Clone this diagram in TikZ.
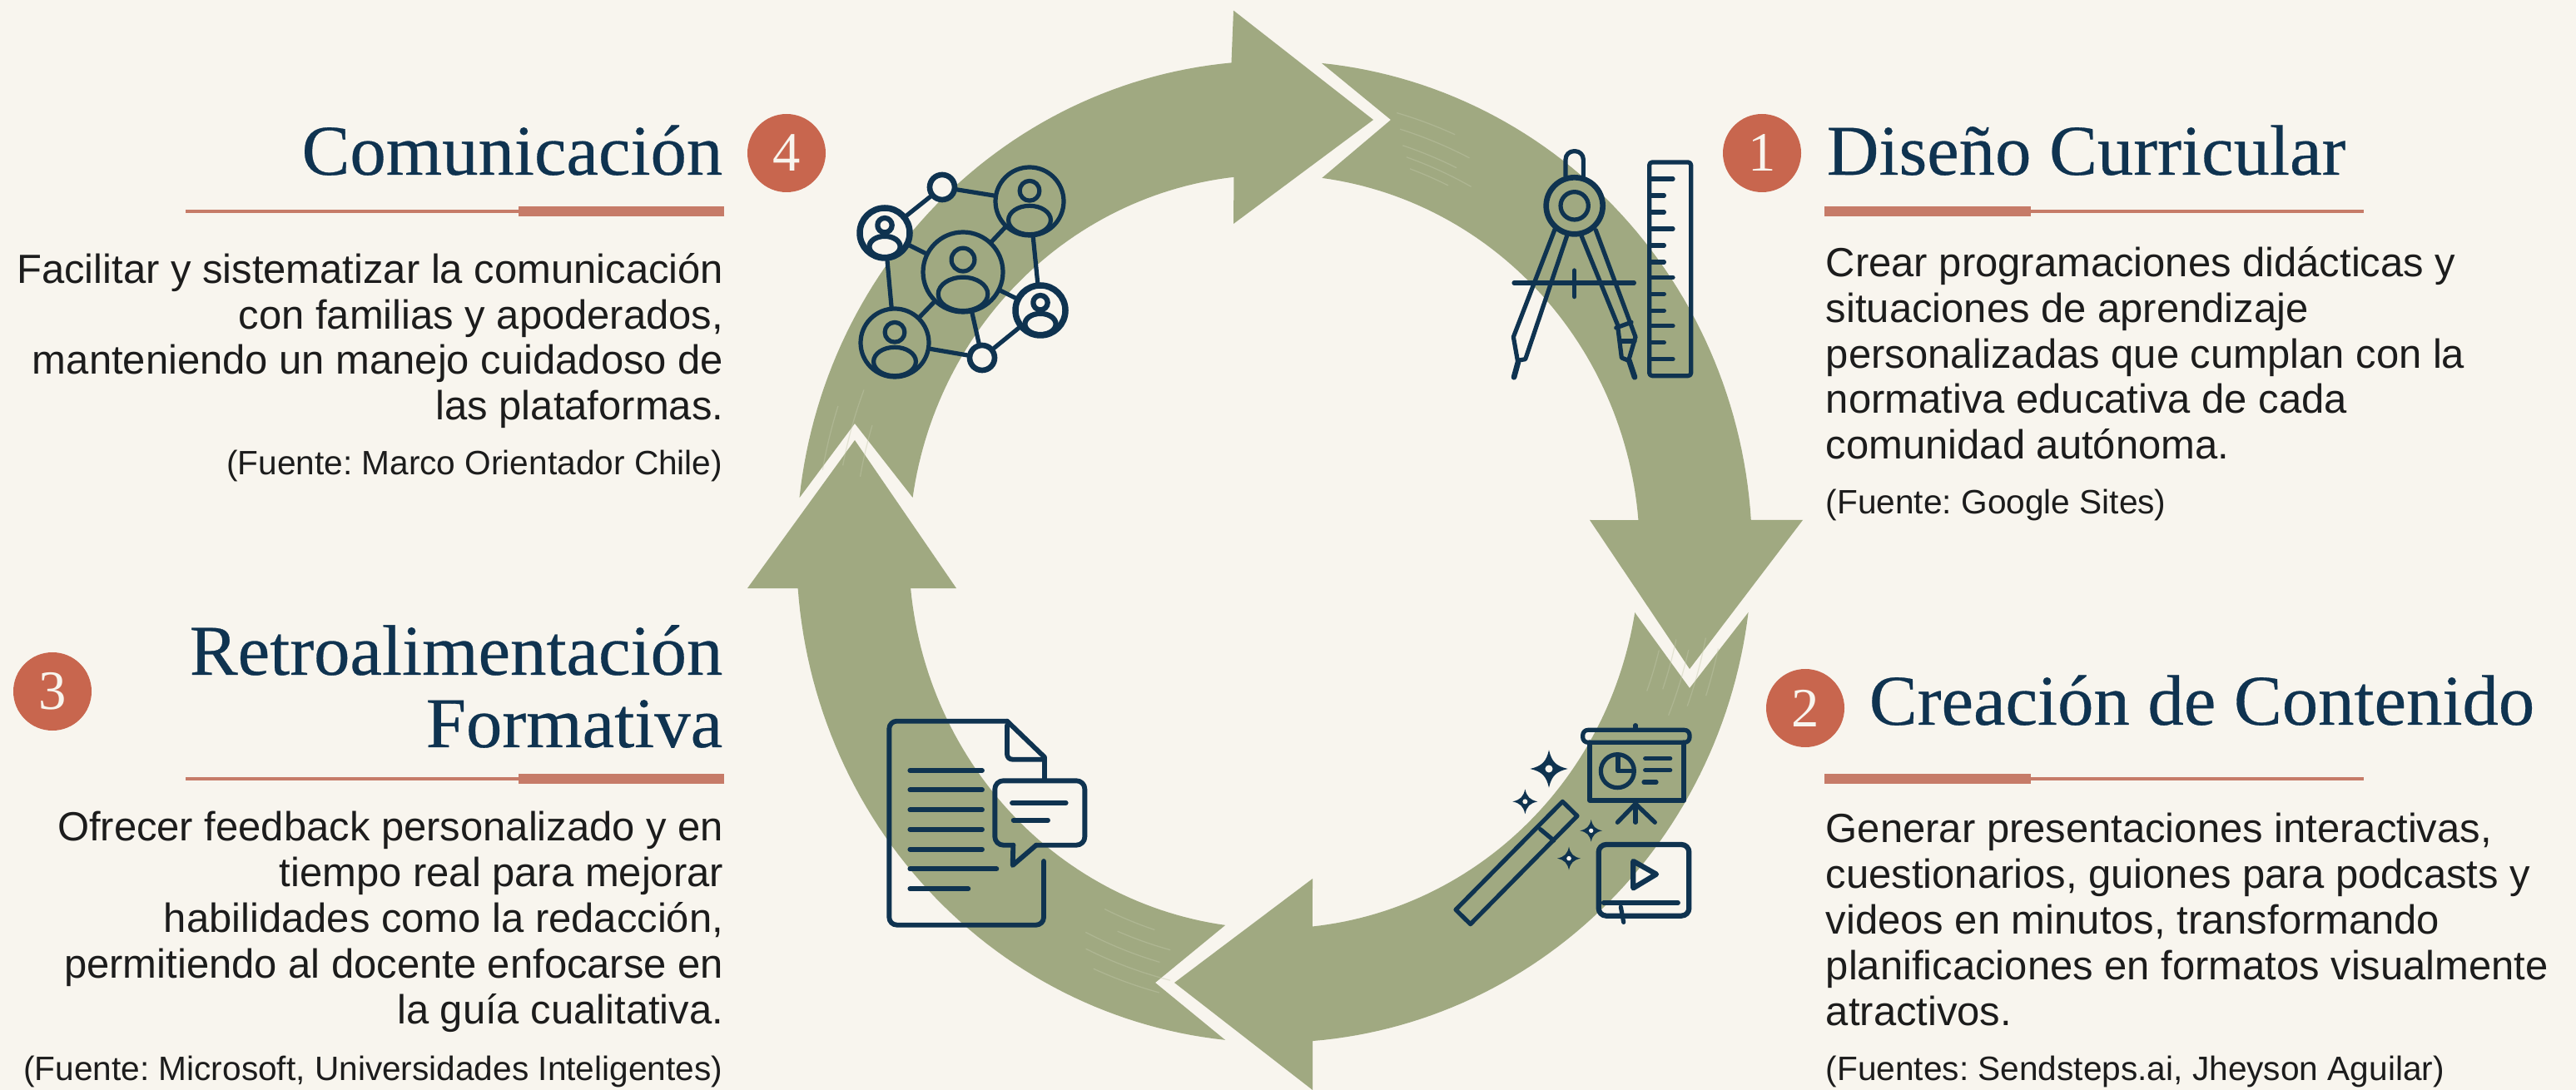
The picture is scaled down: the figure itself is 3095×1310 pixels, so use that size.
\documentclass[tikz,border=0pt]{standalone}
\usepackage{fontspec}
\setmainfont{Liberation Sans}
\newfontfamily\headfont[FakeStretch=1.01,FakeBold=0.35]{Liberation Serif}
\newfontfamily\numfont{Liberation Serif}
\frenchspacing
\definecolor{bgc}{HTML}{F8F5EE}
\definecolor{ringc}{HTML}{A0A981}
\definecolor{streakc}{HTML}{C4CAAC}
\definecolor{navy}{HTML}{0F3350}
\definecolor{terra}{HTML}{C8664E}
\definecolor{rulec}{HTML}{C67B68}
\definecolor{inkc}{HTML}{1C1C1C}
\def\u{0.24pt}
\tikzset{
  ringarrow/.style={fill=ringc},
  streak/.style={draw=streakc,line width=0.3pt,opacity=0.4},
  title/.style={font=\headfont\fontsize{20.6}{20.9}\selectfont,text=navy,inner sep=0pt},
  bodytext/.style={font=\fontsize{11.75}{13.2}\selectfont,text=inkc,inner sep=0pt},
  srctext/.style={font=\fontsize{9.75}{11}\selectfont,text=inkc,inner sep=0pt},
  badge/.style={circle,fill=terra,minimum size=94*\u,inner sep=0pt,text=bgc,font=\numfont\fontsize{16}{16}\selectfont},
  thinrule/.style={draw=rulec,line width=0.95pt},
  thickrule/.style={draw=rulec,line width=2.8pt},
  icon/.style={draw=navy,line width=1.25pt,line cap=round,line join=round},
  net/.style={circle,draw=navy,line width=1.25pt,inner sep=0pt},
  declare function={ox(\t)=1531+574*cos(\t);oy(\t)=663+590*sin(\t);ix(\t)=1531+439*cos(\t);iy(\t)=663+453*sin(\t);},
}
\newcommand{\streakarc}[3]{\draw[streak] plot[domain=#1:#2,samples=8,smooth] ({1531+#3*574*cos(\x)},{663+#3*590*sin(\x)});}
\newcommand{\personicon}[4][1.25pt]{%
  \begin{scope}[shift={(#2,#3)}]
    \draw[icon,line width=#1] (0,{-.31*#4}) circle[radius={.29*#4}];
    \draw[icon,line width=#1] (0,{.55*#4}) ellipse[x radius={.62*#4},y radius={.42*#4}];
  \end{scope}}
\newcommand{\sparkle}[3]{%
  \begin{scope}[shift={(#1,#2)},scale=#3]
    \fill[navy] (0,-1) .. controls (.14,-.38) and (.38,-.14) .. (1,0)
      .. controls (.38,.14) and (.14,.38) .. (0,1)
      .. controls (-.14,.38) and (-.38,.14) .. (-1,0)
      .. controls (-.38,-.14) and (-.14,-.38) .. (0,-1) -- cycle;
    \fill[bgc] (0,0) circle[radius=.2];
  \end{scope}}
\begin{document}
\begin{tikzpicture}[x=0.24pt,y=-0.24pt]
\useasboundingbox (0,0) rectangle (3095,1310);
\clip (0,0) rectangle (3095,1310);
\fill[bgc] (0,0) rectangle (3095,1310);

% --- ring of four arrows
\fill[ringarrow] plot[domain=-84.3:-3.7,samples=60] ({ox(\x)},{oy(\x)}) -- (2166,625) -- (2030,804) -- (1910,625) -- plot[domain=-4.8:-82.5,samples=60] ({ix(\x)},{iy(\x)}) -- (1671,144) -- cycle;
\fill[ringarrow] plot[domain=7.1:85.4,samples=60] ({ox(\x)},{oy(\x)}) -- (1577,1310) -- (1411,1181) -- (1577,1056) -- plot[domain=84:9.3,samples=60] ({ix(\x)},{iy(\x)}) -- (2030,827) -- cycle;
\fill[ringarrow] plot[domain=95.9:175.7,samples=60] ({ox(\x)},{oy(\x)}) -- (898,707) -- (1027,529) -- (1149,707) -- plot[domain=174.4:97.7,samples=60] ({ix(\x)},{iy(\x)}) -- (1388,1181) -- cycle;
\fill[ringarrow] plot[domain=186.3:264.85,samples=60] ({ox(\x)},{oy(\x)}) -- (1482,12.6) -- (1650,144) -- (1482,269) -- plot[domain=263.65:188.25,samples=60] ({ix(\x)},{iy(\x)}) -- (1027,509) -- cycle;

% --- worn streaks on the tails
\foreach \a/\b/\r in {-74/-66/.93,-73/-63/.90,-72/-64/.87,-71/-61/.85,-70/-64/.83}{\streakarc{\a}{\b}{\r}}
\foreach \a/\b/\r in {12/18/.95,11/20/.92,13/22/.89,12/19/.86,14/20/.83}{\streakarc{\a}{\b}{\r}}
\foreach \a/\b/\r in {105/114/.93,104/116/.90,106/117/.87,105/113/.84,108/116/.81}{\streakarc{\a}{\b}{\r}}
\foreach \a/\b/\r in {190/198/.96,191/201/.92,190/197/.88}{\streakarc{\a}{\b}{\r}}

% --- compass and ruler
\begin{scope}[shift={(1800,170)},x=0.08pt,y=-0.08pt]
  \draw[icon,rounded corners=2.4pt] (243,125) -- (243,35) -- (307,35) -- (307,125);
  \draw[icon,line width=1.6pt] (275,232) circle[radius=102];
  \draw[icon] (275,232) circle[radius=50];
  \draw[icon] (205,315) -- (55,705) -- (70,790) -- (98,785) -- (248,340);
  \draw[icon,line width=1.6pt] (72,795) -- (57,850);
  \draw[icon] (300,340) -- (430,660) -- (445,780) -- (470,790) -- (495,705) -- (352,320);
  \draw[icon] (425,672) -- (480,652);
  \draw[icon] (440,720) -- (492,720);
  \draw[icon,line width=1.6pt] (472,790) -- (492,850);
  \draw[icon] (57,510) -- (490,510);
  \draw[icon] (275,465) -- (275,560);
  \draw[icon,rounded corners=0.8pt] (545,75) rectangle (695,845);
  \foreach \yy in {135,315,490,665,785}{\draw[icon] (545,\yy) -- (630,\yy);}
  \foreach \yy in {195,255,375,435,550,610,725}{\draw[icon] (545,\yy) -- (598,\yy);}
\end{scope}

% --- network of people
\node[net,minimum size=96*\u] (c0) at (1157,327) {};
\node[net,minimum size=82*\u] (c1) at (1237,242) {};
\node[net,fill=bgc,line width=1.8pt,minimum size=60*\u] (c2) at (1063,280) {};
\node[net,minimum size=82*\u] (c3) at (1075,412) {};
\node[net,fill=bgc,line width=1.8pt,minimum size=60*\u] (c4) at (1250,373) {};
\node[net,fill=bgc,line width=1.6pt,minimum size=30*\u] (s1) at (1132,225) {};
\node[net,fill=bgc,line width=1.6pt,minimum size=30*\u] (s2) at (1180,430) {};
\foreach \p/\q in {c0/c1,c0/c2,c0/c3,c0/c4,c0/s2,c2/s1,s1/c1,c1/c4,c2/c3,c3/s2,c4/s2}{\draw[icon] (\p) -- (\q);}
\personicon{1157}{327}{48}
\personicon{1237}{242}{41}
\personicon[1.5pt]{1063}{280}{30}
\personicon{1075}{412}{41}
\personicon[1.5pt]{1250}{373}{30}

% --- document with comment bubble
\begin{scope}[shift={(1050,850)},x=0.08pt,y=-0.08pt]
  \draw[icon,line width=1.4pt,rounded corners=2.2pt] (612,555) -- (612,785) -- (55,785) -- (55,50) -- (480,50);
  \draw[icon,line width=1.4pt] (480,50) -- (615,180) -- (615,262);
  \draw[icon,line width=1.4pt,rounded corners=1.5pt] (480,65) -- (480,188) -- (612,188);
  \foreach \yy in {228,298,370,440,512}{\draw[icon,line width=1.4pt] (130,\yy) -- (390,\yy);}
  \draw[icon,line width=1.4pt] (130,583) -- (442,583);
  \draw[icon,line width=1.4pt] (130,655) -- (340,655);
  \draw[icon,line width=1.4pt,rounded corners=2.4pt] (502,497) -- (436,497) -- (436,265) -- (760,265) -- (760,497) -- (585,497);
  \draw[icon,line width=1.4pt] (502,497) -- (500,570) -- (585,497);
  \draw[icon,line width=1.4pt] (498,345) -- (692,345);
  \draw[icon,line width=1.4pt] (503,407) -- (627,407);
\end{scope}

% --- presentation, wand and video
\begin{scope}[shift={(1730,860)},x=0.08pt,y=-0.08pt]
  \draw[icon,rounded corners=1.5pt] (515,52) rectangle (900,97);
  \draw[icon] (705,35) -- (705,52);
  \draw[icon,line width=1.4pt] (540,97) -- (540,305) -- (880,305) -- (880,97);
  \draw[icon] (640,200) circle[radius=60];
  \draw[icon] (642,142) -- (642,200) -- (700,200);
  \draw[icon] (740,155) -- (830,155);
  \draw[icon] (740,197) -- (830,197);
  \draw[icon] (735,240) -- (780,240);
  \draw[icon] (705,305) -- (705,385);
  \draw[icon] (705,318) -- (640,385);
  \draw[icon] (705,318) -- (775,385);
  \sparkle{393}{192}{68}
  \sparkle{307}{310}{45}
  \sparkle{465}{515}{42}
  \sparkle{545}{415}{40}
  \draw[icon] (442,310) -- (495,362) -- (110,752) -- (57,700) -- cycle;
  \draw[icon] (362,410) -- (410,450);
  \draw[icon,line width=1.5pt,rounded corners=2.2pt] (572,465) rectangle (898,722);
  \draw[icon,line width=1.5pt] (697,525) -- (780,572) -- (697,622) -- cycle;
  \draw[icon,line width=1.4pt] (590,675) -- (858,675);
  \draw[icon] (652,690) -- (662,745);
\end{scope}

% --- 1 Dise\~no Curricular
\node[badge] (b1) at (2117,184) {1};
\node[title,anchor=base west] (t1) at (2194,210) {Diseño Curricular};
\coordinate (r1a) at (2192,254); \coordinate (r1b) at (2440,254); \coordinate (r1c) at (2840,254);
\draw[thinrule] (r1b) -- (r1c); \draw[thickrule] (r1a) -- (r1b);
\node[bodytext,anchor=base west,align=left] (d1) at (2193,552) {Crear programaciones didácticas y\\situaciones de aprendizaje\\personalizadas que cumplan con la\\normativa educativa de cada\\comunidad autónoma.};
\node[srctext,anchor=base west] (f1) at (2193,618) {(Fuente: Google Sites)};

% --- 2 Creaci\'on de Contenido
\node[badge] (b2) at (2169,851) {2};
\node[title,anchor=base west] (t2) at (2245,871) {Creación de Contenido};
\coordinate (r2a) at (2192,936); \coordinate (r2b) at (2440,936); \coordinate (r2c) at (2840,936);
\draw[thinrule] (r2b) -- (r2c); \draw[thickrule] (r2a) -- (r2b);
\node[bodytext,anchor=base west,align=left] (d2) at (2193,1232) {Generar presentaciones interactivas,\\cuestionarios, guiones para podcasts y\\videos en minutos, transformando\\planificaciones en formatos visualmente\\atractivos.};
\node[srctext,anchor=base west] (f2) at (2193,1298) {(Fuentes: Sendsteps.ai, Jheyson Aguilar)};

% --- 3 Retroalimentaci\'on Formativa
\node[badge] (b3) at (63,831) {3};
\node[title,anchor=base east,align=right] (t3) at (869,898) {Retroalimentación\\Formativa};
\coordinate (r3a) at (870,936); \coordinate (r3b) at (623,936); \coordinate (r3c) at (223,936);
\draw[thinrule] (r3b) -- (r3c); \draw[thickrule] (r3a) -- (r3b);
\node[bodytext,anchor=base east,align=right] (d3) at (870,1230) {Ofrecer feedback personalizado y en\\tiempo real para mejorar\\habilidades como la redacción,\\permitiendo al docente enfocarse en\\la guía cualitativa.};
\node[srctext,anchor=base east] (f3) at (869,1298) {(Fuente: Microsoft, Universidades Inteligentes)};

% --- 4 Comunicaci\'on
\node[badge] (b4) at (945,184) {4};
\node[title,anchor=base east] (t4) at (869,210) {Comunicación};
\coordinate (r4a) at (870,254); \coordinate (r4b) at (623,254); \coordinate (r4c) at (223,254);
\draw[thinrule] (r4b) -- (r4c); \draw[thickrule] (r4a) -- (r4b);
\node[bodytext,anchor=base east,align=right] (d4) at (870,505) {Facilitar y sistematizar la comunicación\\con familias y apoderados,\\manteniendo un manejo cuidadoso de\\las plataformas.};
\node[srctext,anchor=base east] (f4) at (869,571) {(Fuente: Marco Orientador Chile)};
\end{tikzpicture}
\end{document}
